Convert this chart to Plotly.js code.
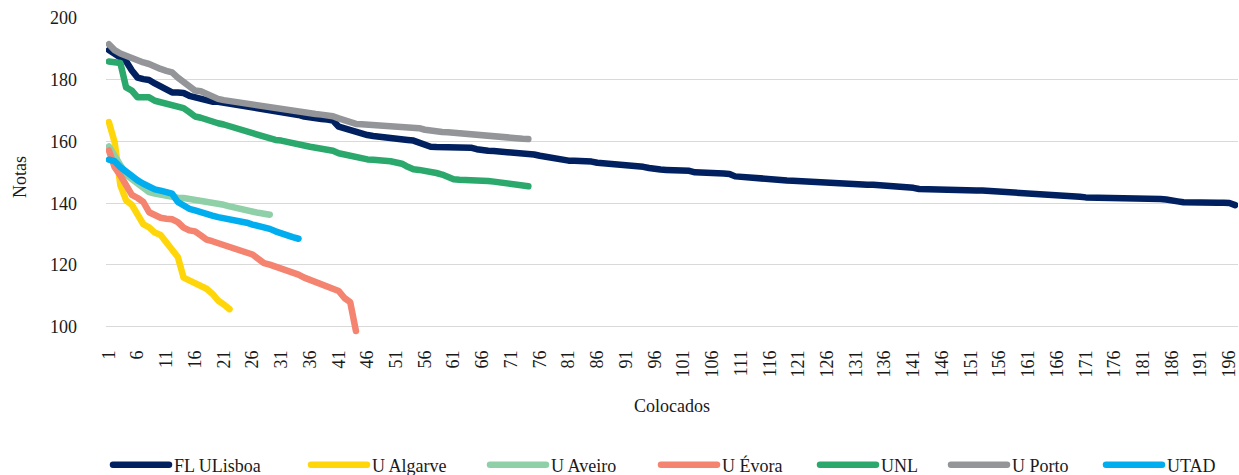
<!DOCTYPE html>
<html>
<head>
<meta charset="utf-8">
<script src="https://cdn.plot.ly/plotly-3.0.1.min.js"></script>
<style>
  html, body { margin: 0; padding: 0; background: #fff; }
  #chart { width: 1239px; height: 475px; }
  .scatterlayer .js-line, .legendlines path { stroke-linecap: round; stroke-linejoin: round; }
</style>
</head>
<body>
<div id="chart"></div>
<script>
// ---- Data ----
const seriesNames = ['FL ULisboa', 'U Algarve', 'U Aveiro', 'U Évora', 'UNL', 'U Porto', 'UTAD'];

const flULisboa = [
  189.6,188.4,187.7,186.0,183.0,180.7,180.2,179.9,178.8,177.7,
  176.7,175.9,175.9,175.7,174.8,174.3,174.3,173.5,172.9,172.9,
  172.6,172.4,172.2,172.0,171.7,171.4,171.1,170.7,170.2,169.7,
  169.4,169.2,169.0,168.6,168.1,167.7,167.5,167.3,167.1,166.8,
  164.8,164.2,163.7,163.2,162.6,162.1,161.8,161.5,161.2,161.0,
  160.8,160.6,160.5,160.3,159.5,158.8,158.3,158.2,158.2,158.2,
  158.1,158.1,158.0,158.0,157.5,157.1,157.0,156.9,156.8,156.7,
  156.5,156.4,156.2,156.0,155.8,155.4,155.0,154.8,154.4,154.0,
  153.8,153.8,153.8,153.7,153.5,153.1,153.0,152.9,152.8,152.5,
  152.2,152.1,152.0,151.8,151.4,151.0,150.9,150.8,150.8,150.8,
  150.7,150.5,150.0,149.8,149.7,149.7,149.7,149.6,149.5,148.7,
  148.5,148.4,148.4,148.3,148.2,147.6,147.4,147.4,147.4,147.3,
  147.2,146.7,146.5,146.5,146.5,146.4,146.1,146.0,146.0,146.0,
  146.0,146.0,146.0,146.0,145.9,145.7,145.6,145.6,145.5,145.5,
  145.0,144.6,144.5,144.5,144.5,144.4,144.2,144.1,144.1,144.1,
  144.1,144.1,144.1,144.0,143.7,143.6,143.6,143.5,143.3,143.2,
  143.2,143.2,143.2,143.2,143.0,142.7,142.6,142.6,142.5,142.1,
  141.9,141.9,141.9,141.9,141.8,141.6,141.6,141.6,141.6,141.5,
  141.4,141.4,141.4,141.4,141.2,140.7,140.6,140.3,140.2,140.2,
  140.2,140.2,140.2,140.2,140.2,140.1,139.4
];

const uAlgarve = [
  166.3,159.8,145.8,140.9,139.5,136.3,133.2,132.2,130.5,129.7,
  127.4,125.2,122.6,115.9,114.9,114.3,112.9,112.3,110.7,108.5,
  107.2,105.7
];

const uAveiro = [
  158.4,155.5,152.2,149.3,147.8,146.3,144.7,143.6,143.1,142.7,
  142.3,142.0,141.8,141.7,141.4,141.2,141.1,140.9,140.6,140.0,
  139.5,139.0,138.5,138.0,137.7,137.3,136.9,136.6,136.3
];

const uEvora = [
  157.1,151.7,149.0,145.8,142.7,141.7,140.4,137.1,136.1,135.3,
  135.0,134.8,133.9,132.1,131.2,130.9,129.6,128.2,127.7,127.1,
  126.3,125.8,125.0,124.5,124.1,123.4,122.0,120.6,120.1,119.5,
  118.6,118.0,117.7,116.9,115.9,115.2,114.8,113.9,113.1,112.3,
  111.6,109.3,108.0,98.6
];

const unl = [
  185.9,185.8,185.4,177.5,176.5,174.3,174.3,174.3,173.2,172.7,
  172.1,171.6,171.1,170.8,169.5,168.1,167.7,167.0,166.6,165.9,
  165.5,164.9,164.4,163.8,163.4,162.7,161.9,161.2,161.0,160.5,
  160.3,159.8,159.3,159.0,158.7,158.3,158.0,157.7,157.3,157.0,
  156.2,155.8,155.2,154.7,154.4,154.2,154.1,154.1,154.0,153.6,
  153.2,152.8,151.8,151.0,150.8,150.6,150.4,149.8,149.3,148.5,
  147.8,147.6,147.6,147.5,147.5,147.4,147.2,147.0,146.7,146.2,
  145.9,145.8,145.7,145.5
];

const uPorto = [
  191.5,189.6,188.5,187.7,186.7,185.9,185.6,185.1,184.0,183.5,
  182.9,182.4,180.7,179.1,177.7,176.5,176.3,175.4,174.3,173.8,
  173.4,173.1,172.9,172.7,172.4,172.2,171.6,171.3,170.9,170.6,
  170.2,170.0,169.8,169.7,169.5,169.2,168.9,168.7,168.5,168.2,
  167.5,166.8,166.0,165.7,165.6,165.5,165.4,165.2,165.0,164.9,
  164.8,164.7,164.6,164.5,164.3,163.8,163.4,163.2,163.1,163.0,
  162.8,162.6,162.5,162.4,162.3,162.2,162.0,161.7,161.4,161.2,
  161.1,161.0,160.9,160.8
];

const utad = [
  154.1,153.6,151.7,150.1,149.0,147.4,146.3,145.2,144.5,144.1,
  143.8,143.1,140.4,139.0,138.2,137.7,137.3,136.6,136.0,135.5,
  135.2,134.8,134.4,134.1,133.7,133.1,132.7,132.3,131.7,130.9,
  130.1,129.6,129.0,128.5
];

const yTickValues = [100, 120, 140, 160, 180, 200];
const categoryCount = 197;          // "Colocados" positions 1..197
const xTickStep = 5;                // labels 1, 6, 11, ... 196

// ---- Styling (kept separate from the data) ----
const seriesColors = ['#002060', '#FFD60A', '#8FD0A8', '#F4836F', '#2BA86B', '#939598', '#00AEEF'];
const legendLineStartPx = [113, 311, 490, 661, 820, 951, 1106];
const FONT = "'Liberation Serif', serif";
const TXT = '#1a1a1a';
const W = 1239, H = 475;

const allSeries = [flULisboa, uAlgarve, uAveiro, uEvora, unl, uPorto, utad];
const categories = Array.from({length: categoryCount}, (_, i) => i + 1);
const xTickVals = categories.filter(c => (c - 1) % xTickStep === 0);

const traces = allSeries.map((vals, k) => ({
  type: 'scatter',
  mode: 'lines',
  name: seriesNames[k],
  x: categories.slice(0, vals.length),
  y: vals,
  line: {color: seriesColors[k], width: 6.5},
  legend: k === 0 ? 'legend' : 'legend' + (k + 1),
  hoverinfo: 'x+y+name'
}));

const layout = {
  width: W, height: H,
  margin: {l: 106, r: 1, t: 18, b: 139},
  paper_bgcolor: '#ffffff',
  plot_bgcolor: '#ffffff',
  font: {family: FONT, size: 18, color: TXT},
  showlegend: true,
  xaxis: {
    range: [0.5, categoryCount + 0.5],
    tickmode: 'array',
    tickvals: xTickVals,
    ticktext: xTickVals.map(String),
    tickangle: -90,
    ticklabeloverflow: 'allow',
    showgrid: false, zeroline: false, showline: false, ticks: '',
    ticklabelstandoff: 10,
    tickfont: {family: FONT, size: 18, color: TXT},
    title: {text: 'Colocados', font: {family: FONT, size: 18, color: TXT}, standoff: 22}
  },
  yaxis: {
    range: [97, 200],
    tickmode: 'array',
    tickvals: yTickValues,
    showgrid: true, gridcolor: '#d9d9d9', gridwidth: 1,
    zeroline: false, showline: false, ticks: '',
    ticklabelstandoff: 28,
    tickfont: {family: FONT, size: 18, color: TXT},
    title: {text: 'Notas', font: {family: FONT, size: 18, color: TXT}, standoff: 18}
  }
};

seriesNames.forEach((n, k) => {
  const key = k === 0 ? 'legend' : 'legend' + (k + 1);
  layout[key] = {
    xref: 'container', yref: 'container',
    x: (legendLineStartPx[k] - 5) / W, xanchor: 'left',
    y: 10 / H, yanchor: 'middle',
    orientation: 'h',
    bgcolor: 'rgba(0,0,0,0)',
    borderwidth: 0,
    itemwidth: 56,
    font: {family: FONT, size: 18, color: TXT}
  };
});

Plotly.newPlot('chart', traces, layout, {displayModeBar: false, staticPlot: true});
</script>
</body>
</html>
